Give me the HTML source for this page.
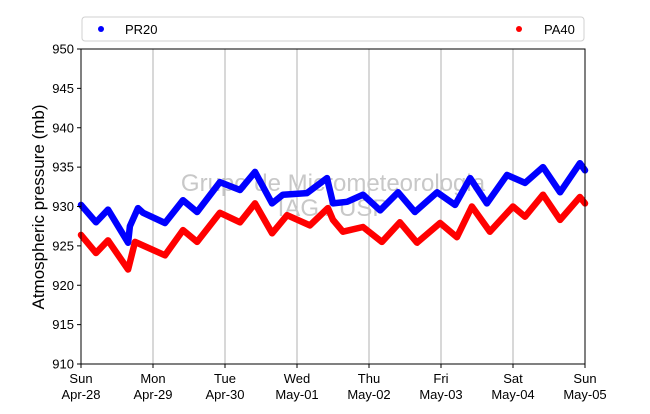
<!DOCTYPE html>
<html><head><meta charset="utf-8"><style>
body{margin:0;background:#fff}
svg text{font-family:"Liberation Sans","DejaVu Sans",sans-serif}
</style></head><body>
<svg id="chart" width="650" height="409" xmlns="http://www.w3.org/2000/svg"></svg>
<script>
const dayLabels = ["Sun","Mon","Tue","Wed","Thu","Fri","Sat","Sun"];
const dateLabels = ["Apr-28","Apr-29","Apr-30","May-01","May-02","May-03","May-04","May-05"];
const yTicks = [910,915,920,925,930,935,940,945,950];
const pr20Hours = [0,5,9,15.7,16.3,19,20.7,28,34,38.7,46.3,53,58,63.7,67.3,75.3,82,84,88.7,94,99.7,105.7,111.3,118.7,124.7,129.7,135.3,142,148,154,159.7,166.3,168];
const pr20Values = [930.2,928,929.6,925.4,927.5,929.8,929.2,927.9,930.8,929.3,933.1,932.1,934.4,930.4,931.5,931.7,933.6,930.4,930.6,931.5,929.5,931.8,929.3,931.8,930.2,933.6,930.4,934,933,935,931.8,935.5,934.6];
const pa40Hours = [0,5,9,15.7,18,28,34,38.7,46.3,53,58,63.7,68.7,76.3,82.3,84,87.3,94,100.3,106.3,112,119.7,125.3,130.3,136.3,144,148,154,159.7,166.3,168];
const pa40Values = [926.4,924.1,925.7,922,925.5,923.8,927,925.5,929.2,928,930.4,926.6,928.9,927.6,929.8,928.3,926.8,927.4,925.5,928,925.4,927.9,926.1,930,926.8,930,928.7,931.5,928.3,931.2,930.4];

const L=81,R=585,T=49,B=364;
const xS=h=>L+(h/168)*(R-L);
const yS=v=>B-(v-910)/40*(B-T);
const svg=document.getElementById('chart');
const NS="http://www.w3.org/2000/svg";
function mk(tag,attrs,parent){const e=document.createElementNS(NS,tag);for(const k in attrs)e.setAttribute(k,attrs[k]);(parent||svg).appendChild(e);return e;}

// grid
dayLabels.forEach((d,i)=>{
  if(i>0&&i<7){const g=mk('line',{x1:xS(i*24),x2:xS(i*24),y1:T,y2:B,stroke:'#b0b0b0','stroke-width':1});
  
  }
});

// watermark
const w1=mk('text',{x:333,y:191,'text-anchor':'middle','font-size':24,fill:'#c8c8c8'});w1.textContent='Grupo de Micrometeorologia';


const w2=mk('text',{x:333,y:216,'text-anchor':'middle','font-size':24,fill:'#c8c8c8'});w2.textContent='IAG / USP';



function series(hours,vals,color,name){
  const pts=hours.map((h,i)=>xS(h).toFixed(1)+','+yS(vals[i]).toFixed(1)).join(' ');
  const p=mk('polyline',{points:pts,fill:'none',stroke:color,'stroke-width':6.5,'stroke-linejoin':'round','stroke-linecap':'round'});
  
  
}
series(pr20Hours,pr20Values,'#0000ff','pr20-series');
series(pa40Hours,pa40Values,'#ff0000','pa40-series');

// axes frame
const fr=mk('rect',{x:L,y:T,width:R-L,height:B-T,fill:'none',stroke:'#000','stroke-width':1});



yTicks.forEach(v=>{
  mk('line',{x1:L-4,x2:L,y1:yS(v),y2:yS(v),stroke:'#000'});
  const t=mk('text',{x:L-7,y:yS(v)+4.5,'text-anchor':'end','font-size':13,fill:'#000'});t.textContent=v;
  
  
});
dayLabels.forEach((d,i)=>{
  const x=xS(i*24);
  mk('line',{x1:x,x2:x,y1:B,y2:B+4,stroke:'#000'});
  const t=mk('text',{x:x,y:B+19,'text-anchor':'middle','font-size':13,fill:'#000'});t.textContent=d;
  
  
  const t2=mk('text',{x:x,y:B+35,'text-anchor':'middle','font-size':13,fill:'#000'});t2.textContent=dateLabels[i];
  
  
});

const yl=mk('text',{x:0,y:0,transform:'translate(44,207) rotate(-90)','text-anchor':'middle','font-size':17,fill:'#000'});yl.textContent='Atmospheric pressure (mb)';



// legend
const lg=mk('g',{});


mk('rect',{x:82,y:17,width:502,height:24,rx:3,fill:'#fff',stroke:'#d0d0d0'},lg);
mk('circle',{cx:101,cy:29,r:3,fill:'#0000ff'},lg);
const l1=mk('text',{x:125,y:34,'font-size':13,fill:'#000'},lg);l1.textContent='PR20';


mk('circle',{cx:519,cy:29,r:3,fill:'#ff0000'},lg);
const l2=mk('text',{x:544,y:34,'font-size':13,fill:'#000'},lg);l2.textContent='PA40';


</script>
</body></html>
